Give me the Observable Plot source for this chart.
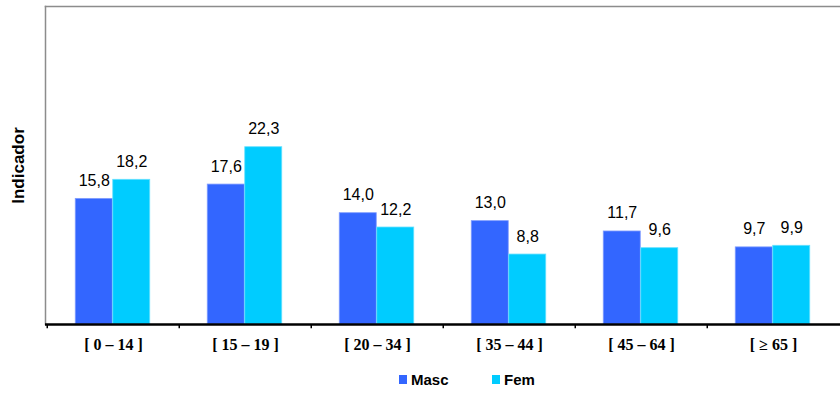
<!DOCTYPE html>
<html><head><meta charset="utf-8">
<script src="https://cdn.jsdelivr.net/npm/d3@7"></script>
<script src="https://cdn.jsdelivr.net/npm/@observablehq/plot@0.6"></script>
<style>
body{margin:0;background:#fff;}
#legend{position:relative;height:36px;font-family:"Liberation Sans",Arial,sans-serif;font-weight:bold;font-size:15px;color:#000;}
.item{position:absolute;top:11px;display:flex;align-items:center;}
.sw{width:8px;height:9px;margin-right:4px;display:inline-block;}
</style></head>
<body>
<div id="chart"></div>
<div id="legend"></div>
<script>
const categories = ["[ 0 – 14 ]", "[ 15 – 19 ]", "[ 20 – 34 ]", "[ 35 – 44 ]", "[ 45 – 64 ]", "[ ≥ 65 ]"];
const masc = [15.8, 17.6, 14.0, 13.0, 11.7, 9.7];
const fem = [18.2, 22.3, 12.2, 8.8, 9.6, 9.9];
const seriesNames = ["Masc", "Fem"];
const colors = ["#3366FF", "#00CCFF"];
const yLabel = "Indicador";

const W = 840, mL = 45, mR = 0;
const step = (W - mL - mR) / categories.length;
const barW = step * 0.283;
const gap = (step - 2 * barW) / 2 - 0.5;
const fmt = v => v.toFixed(1).replace(".", ",");

const rows = [];
categories.forEach((c, i) => {
  rows.push({cat: c, sex: "Masc", v: masc[i]});
  rows.push({cat: c, sex: "Fem", v: fem[i]});
});
const mRows = rows.filter(d => d.sex === "Masc");
const fRows = rows.filter(d => d.sex === "Fem");

const chart = Plot.plot({
  width: W, height: 360,
  marginLeft: mL, marginRight: mR, marginTop: 6, marginBottom: 36,
  x: {type: "band", domain: categories, padding: 0},
  y: {domain: [0, 40], axis: null},
  marks: [
    Plot.frame({anchor: "left", stroke: "#8c8c8c", strokeWidth: 1.5}),
    Plot.frame({anchor: "top", stroke: "#8c8c8c", strokeWidth: 1.5}),
    Plot.barY(mRows, {x: "cat", y: "v", fill: colors[0], stroke: "#7f9cff", strokeWidth: 0.8,
      insetLeft: gap, insetRight: step - gap - barW}),
    Plot.barY(fRows, {x: "cat", y: "v", fill: colors[1], stroke: "#66e0ff", strokeWidth: 0.8,
      insetLeft: gap + barW, insetRight: step - gap - 2 * barW}),
    Plot.text(mRows, {x: "cat", y: "v", text: d => fmt(d.v), dx: -barW / 2 - 0.5, dy: -13, lineAnchor: "bottom",
      fontSize: 16, fontFamily: "Liberation Sans, Arial, sans-serif", fill: "#000"}),
    Plot.text(fRows, {x: "cat", y: "v", text: d => fmt(d.v), dx: barW / 2 - 0.5, dy: -13, lineAnchor: "bottom",
      fontSize: 16, fontFamily: "Liberation Sans, Arial, sans-serif", fill: "#000"}),
    Plot.ruleY([0], {stroke: "#000", strokeWidth: 2.5}),
    Plot.ruleX(categories, {x: d => d, dx: -step / 2, y1: 0, y2: -0.55, stroke: "#000", strokeWidth: 1.5}),
    Plot.axisX({tickSize: 0, tickPadding: 14, label: null, fontSize: 16, fontWeight: "bold",
      fontFamily: "Liberation Serif, Times New Roman, serif", fill: "#000"}),
    Plot.text([yLabel], {text: d => d, frameAnchor: "left", textAnchor: "middle", rotate: -90, dx: -27,
      fontSize: 17, fontWeight: "bold", fontFamily: "Liberation Sans, Arial, sans-serif", fill: "#000"})
  ]
});
document.getElementById("chart").appendChild(chart);

const legend = document.getElementById("legend");
const lx = [399, 492];
seriesNames.forEach((n, i) => {
  const it = document.createElement("div");
  it.className = "item";
  it.style.left = lx[i] + "px";
  it.innerHTML = `<span class="sw" style="background:${colors[i]}"></span><span>${n}</span>`;
  legend.appendChild(it);
});
</script>
</body></html>
